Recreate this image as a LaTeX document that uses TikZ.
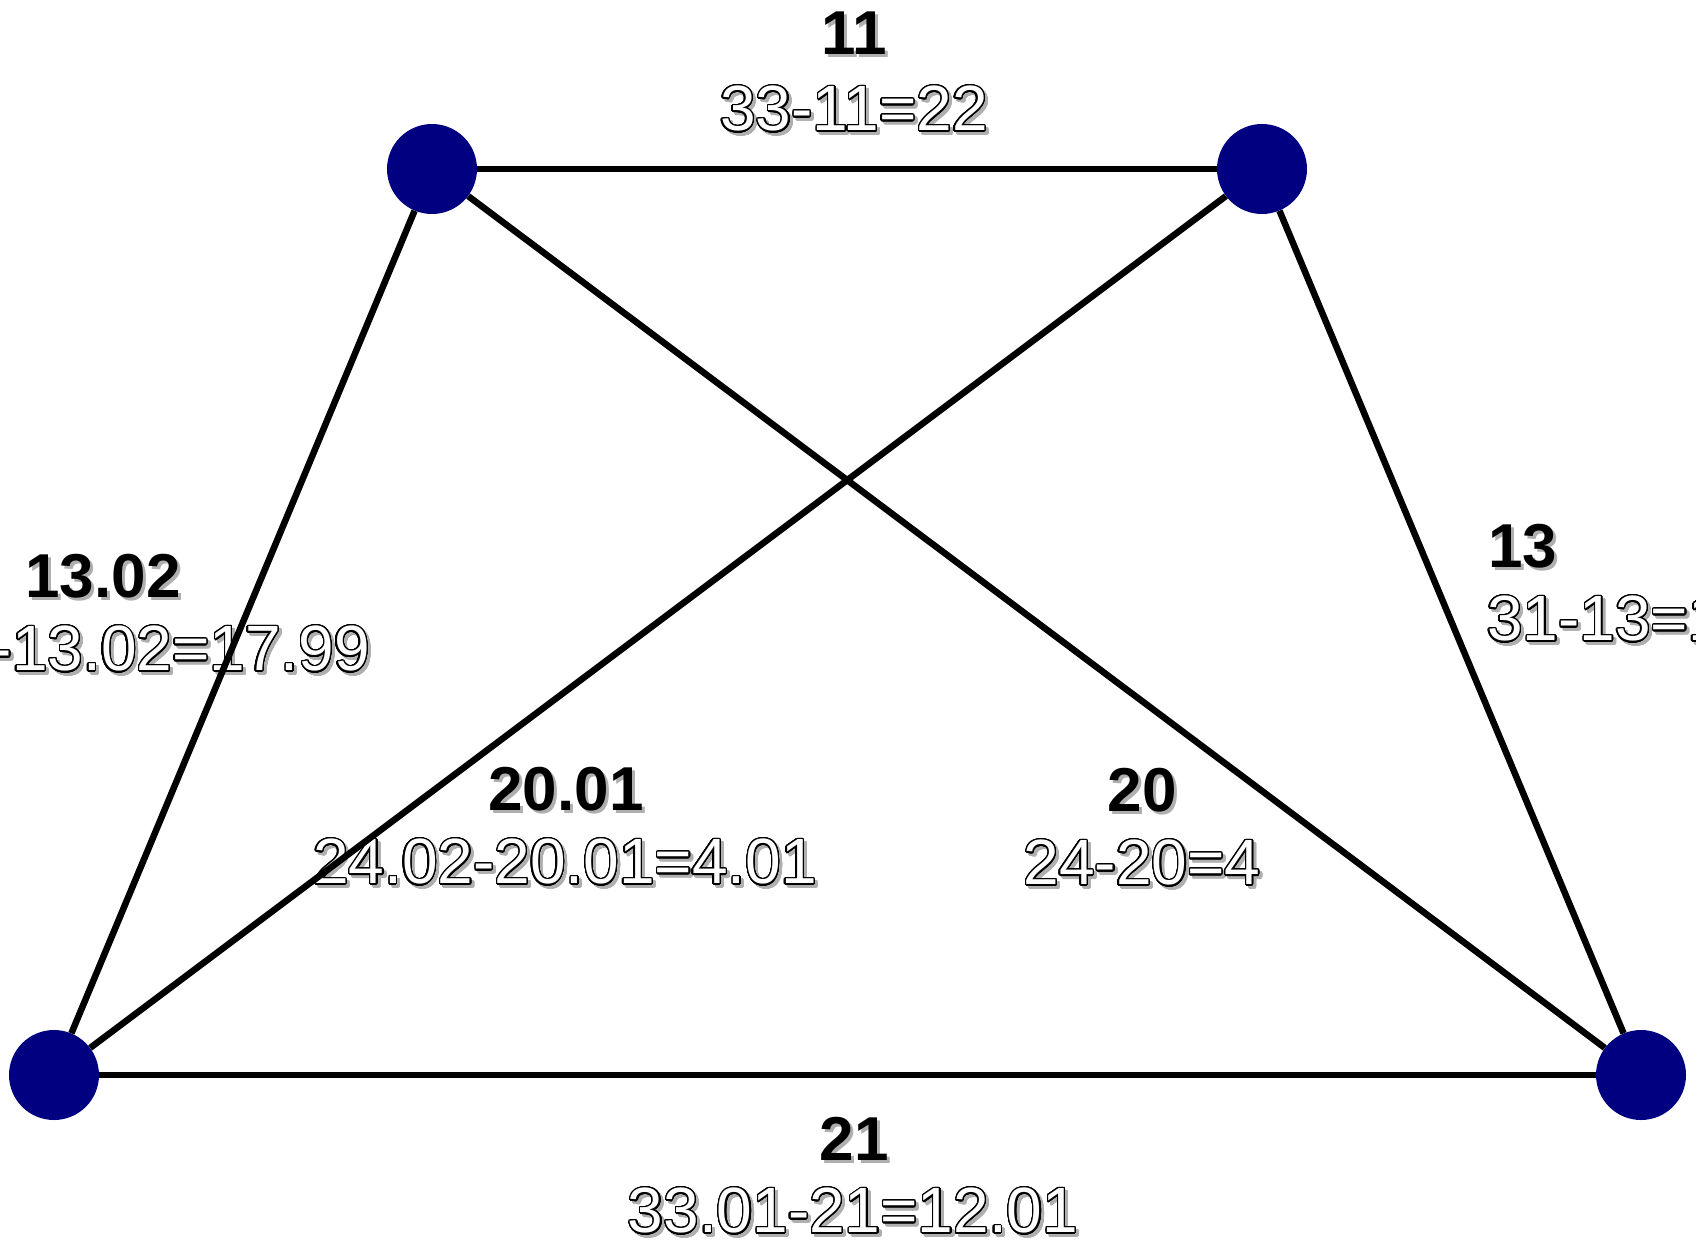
\documentclass[tikz,border=0pt]{standalone}
\usepackage{fontspec}
\setmainfont{Liberation Sans}
\usepackage{contour}
\contournumber{32}
\contourlength{1.3pt}
\definecolor{vertexblue}{RGB}{0,0,128}
\definecolor{shadowgray}{RGB}{175,175,175}
% bold weight with a soft drop shadow
\newcommand{\shadowtext}[1]{\rlap{\kern3pt\raisebox{-3pt}{\color{shadowgray}#1}}#1}
% white outlined difference with a drop shadow
\newcommand{\hollowtext}[1]{\rlap{\kern3pt\raisebox{-3pt}{\color{shadowgray}\contour{shadowgray}{#1}}}{\color{white}\contour{black}{#1}}}
\tikzset{
  vertex/.style={circle,fill=vertexblue,minimum size=90pt,inner sep=0pt},
  weight/.style={font=\fontsize{62}{72}\selectfont\bfseries,inner sep=0pt},
  diff/.style={font=\fontsize{64}{72}\selectfont,inner sep=0pt},
  edge/.style={line width=6.5pt}
}
\begin{document}
\begin{tikzpicture}[x=1pt,y=-1pt]
    \useasboundingbox (0,0) rectangle (1696,1239);
    \clip (0,0) rectangle (1696,1239);
    \node[vertex] (tl) at (432,169) {};
    \node[vertex] (tr) at (1262,169) {};
    \node[vertex] (bl) at (54,1075) {};
    \node[vertex] (br) at (1641,1075) {};
    % weights and differences
    \node[weight] (wtop) at (854,35) {\shadowtext{11}};
    \node[diff] (dtop) at (854,111) {\hollowtext{33-11=22}};
    \node[weight] (wleft) at (103,578) {\shadowtext{13.02}};
    \node[diff,anchor=east] (dleft) at (370,651) {\hollowtext{31.01-13.02=17.99}};
    \node[weight,anchor=west] (wright) at (1488,548) {\shadowtext{13}};
    \node[diff,anchor=west] (dright) at (1487,621) {\hollowtext{31-13=18}};
    \node[weight] (wcross) at (566,791) {\shadowtext{20.01}};
    \node[diff] (dcross) at (565,864) {\hollowtext{24.02-20.01=4.01}};
    \node[weight] (wdiag) at (1142,792) {\shadowtext{20}};
    \node[diff] (ddiag) at (1142,865) {\hollowtext{24-20=4}};
    \node[weight] (wbot) at (854,1140) {\shadowtext{21}};
    \node[diff] (dbot) at (853,1213) {\hollowtext{33.01-21=12.01}};
    \foreach \a/\b in {tl/tr,tl/bl,tl/br,tr/bl,tr/br,bl/br}{\draw[edge] (\a) -- (\b);}
\end{tikzpicture}
\end{document}
